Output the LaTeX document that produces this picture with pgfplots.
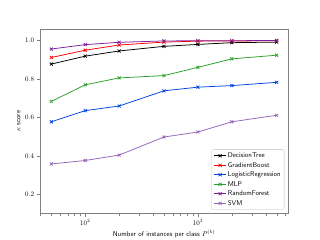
\documentclass[border=0pt]{standalone}
\usepackage{pgfplots}
\pgfplotsset{compat=1.18}
\definecolor{cblue}{HTML}{0343DF}
\definecolor{cgreen}{HTML}{2CA02C}
\definecolor{cpurple}{HTML}{7E1E9C}
\definecolor{clpurple}{HTML}{9467BD}
\definecolor{cred}{HTML}{FF0000}
\begin{document}
\begin{tikzpicture}
\path[use as bounding box] (0,0) rectangle (460.8pt,345.6pt);
\begin{axis}[
  at={(57.6pt,38.0pt)}, anchor=south west,
  scale only axis, width=357.1pt, height=266.1pt,
  xmode=log, xmin=39.7, xmax=6300, ymin=0.1, ymax=1.06,
  ytick={0.2,0.4,0.6,0.8,1.0},
  yticklabel style={/pgf/number format/fixed,/pgf/number format/fixed zerofill,/pgf/number format/precision=1},
  tick align=outside, tick pos=left,
  axis line style={gray}, every tick/.style={gray},
  major tick length=5pt, minor tick length=3pt,
  xlabel={\sffamily Number of instances per class $P^{(k)}$},
  ylabel={\sffamily $\kappa$ score},
  legend style={font=\sffamily, draw=lightgray, rounded corners=2pt, cells={anchor=west}, at={(0.985,0.02)}, anchor=south east, row sep=1.2pt, inner sep=3pt},
  legend cell align=left,
  legend image code/.code={\draw[mark repeat=2,mark phase=2] plot coordinates {(0cm,0cm) (0.3cm,0cm) (0.6cm,0cm)};},
  every axis plot/.append style={line width=1.1pt, mark=x, mark size=3pt},
]
\addplot[black] coordinates {(50,0.877) (100,0.918) (200,0.945) (500,0.969) (1000,0.979) (2000,0.988) (5000,0.991)};
\addlegendentry{DecisionTree}
\addplot[cred] coordinates {(50,0.911) (100,0.949) (200,0.976) (500,0.991) (1000,0.996) (2000,0.997) (5000,0.998)};
\addlegendentry{GradientBoost}
\addplot[cblue] coordinates {(50,0.577) (100,0.635) (200,0.659) (500,0.738) (1000,0.757) (2000,0.765) (5000,0.782)};
\addlegendentry{LogisticRegression}
\addplot[cgreen] coordinates {(50,0.683) (100,0.769) (200,0.805) (500,0.817) (1000,0.860) (2000,0.904) (5000,0.923)};
\addlegendentry{MLP}
\addplot[cpurple] coordinates {(50,0.955) (100,0.978) (200,0.990) (500,0.997) (1000,0.998) (2000,0.998) (5000,1.0)};
\addlegendentry{RandomForest}
\addplot[clpurple] coordinates {(50,0.358) (100,0.376) (200,0.404) (500,0.498) (1000,0.524) (2000,0.577) (5000,0.611)};
\addlegendentry{SVM}
\end{axis}
\end{tikzpicture}
\end{document}
